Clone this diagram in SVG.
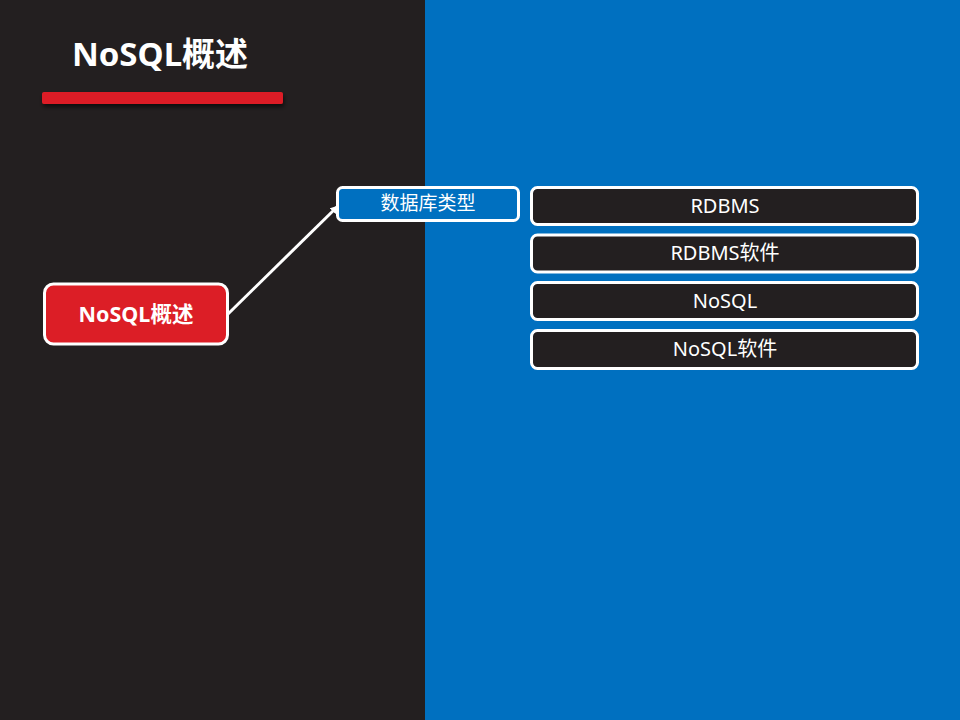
<svg xmlns="http://www.w3.org/2000/svg" width="960" height="720" viewBox="0 0 960 720">
<defs>
<style>
.t{font-family:"Noto Sans","Noto Sans CJK SC",sans-serif;fill:#fff;text-anchor:middle;dominant-baseline:central}
.box{stroke:#fff;stroke-width:3}
.item{fill:#231F20;stroke:#fff;stroke-width:3}
</style>
<marker id="ah" markerWidth="8" markerHeight="8" refX="6" refY="4" orient="auto" markerUnits="userSpaceOnUse">
<path d="M0,0 L8,4 L0,8 Z" fill="#fff"/>
</marker>
<filter id="sh" x="-5%" y="-50%" width="110%" height="250%">
<feDropShadow dx="1" dy="3" stdDeviation="2" flood-color="#000" flood-opacity="0.6"/>
</filter>
</defs>
<rect x="0" y="0" width="425" height="720" fill="#231F20"/>
<rect x="425" y="0" width="535" height="720" fill="#0070C0"/>
<g id="title">
<text class="t" x="160" y="53" font-size="33" font-weight="bold">NoSQL概述</text>
<rect x="42" y="92" width="241" height="12" rx="2" fill="#DC1E26" filter="url(#sh)"/>
</g>
<g id="connectors">
<line x1="228" y1="314" x2="337" y2="207" stroke="#fff" stroke-width="3" marker-end="url(#ah)"/>
</g>
<g id="node-root">
<rect class="box" x="44.5" y="284" width="183" height="60" rx="9" fill="#DC1E26"/>
<text class="t" x="136" y="313" font-size="21.5" font-weight="bold">NoSQL概述</text>
</g>
<g id="node-types">
<rect class="box" x="337.5" y="187.5" width="181" height="33" rx="5" fill="#0070C0"/>
<text class="t" x="428" y="203" font-size="19">数据库类型</text>
</g>
<g id="node-rdbms">
<rect class="item" x="531.5" y="187.5" width="386" height="37" rx="6"/>
<text class="t" x="725" y="205" font-size="20">RDBMS</text>
</g>
<g id="node-rdbms-sw">
<rect class="item" x="531.5" y="235" width="386" height="37" rx="6"/>
<text class="t" x="725" y="252" font-size="20">RDBMS软件</text>
</g>
<g id="node-nosql">
<rect class="item" x="531.5" y="282.5" width="386" height="37" rx="6"/>
<text class="t" x="725" y="300" font-size="20">NoSQL</text>
</g>
<g id="node-nosql-sw">
<rect class="item" x="531.5" y="330.5" width="386" height="38" rx="6"/>
<text class="t" x="725" y="348" font-size="20">NoSQL软件</text>
</g>
</svg>
